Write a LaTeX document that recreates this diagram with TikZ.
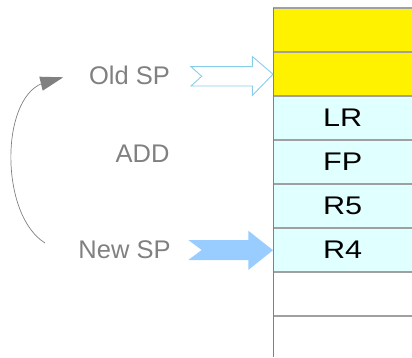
\documentclass[tikz,border=0pt]{standalone}
\usepackage{graphicx}
\usepackage{fontspec}
\setmainfont{Liberation Sans}
\definecolor{ltcyan}{HTML}{E0FFFF}
\definecolor{txtgray}{HTML}{808080}
\definecolor{outblue}{RGB}{135,206,235}
\definecolor{fillblue}{HTML}{99CCFF}
\definecolor{sepgray}{HTML}{A0A0A0}
\newcommand\stretchtxt[1]{\scalebox{1.2}[1]{#1}}
\begin{document}
\begin{tikzpicture}[x=1pt,y=-1pt,
  cell/.style={fill=#1,minimum width=139pt,minimum height=44pt,inner sep=0pt,anchor=north west,font=\fontsize{25.5}{28}\selectfont,text=black},
  lbl/.style={font=\fontsize{25.5}{30}\selectfont,text=txtgray,inner sep=0pt},
  sep/.style={draw=sepgray,line width=1.2pt},
  border/.style={draw=txtgray,line width=1pt}]
\useasboundingbox (0,0) rectangle (412,358);
% stack cells
\node[cell=yellow] (y1) at (273,8) {};
\node[cell=yellow] (y2) at (273,52) {};
\node[cell=ltcyan] (lr) at (273,96) {\stretchtxt{LR}};
\node[cell=ltcyan] (fp) at (273,140) {\stretchtxt{FP}};
\node[cell=ltcyan] (r5) at (273,184) {\stretchtxt{R5}};
\node[cell=ltcyan] (r4) at (273,228) {\stretchtxt{R4}};
\node[cell=white] (w1) at (273,272) {};
\node[cell=white] (w2) at (273,316) {};
\coordinate (bot) at (273,357);
% separators
\foreach \c in {y1,y2,lr,fp,r5,r4,w1,w2} {\draw[sep] (\c.north west) -- (\c.north east);}
\draw[border] (y1.north west) -- (bot);
% labels
\node[lbl] (old) at (129.5,75.5) {Old SP};
\node[lbl] (add) at (142.5,153.5) {ADD};
\node[lbl] (new) at (124.5,250) {New SP};
% hollow arrow to old SP
\draw[draw=outblue,line width=0.9pt,fill=white]
  (191,66.7) -- (252.3,66.7) -- (252.3,56.5) -- (y2.west) -- (252.3,95.5) -- (252.3,86) -- (191,86) -- (201.7,76.3) -- cycle;
% filled arrow to new SP
\fill[fillblue]
  (188.3,240) -- (248.3,240) -- (248.3,230.7) -- (r4.west) -- (248.3,270) -- (248.3,260) -- (188.3,260) -- (201.7,250) -- cycle;
% curved arrow
\coordinate (cs) at (45,243);
\coordinate (ce) at (63.3,77.3);
\draw[txtgray,line width=0.7pt] (cs) .. controls (0,215) and (0,100) .. (42,83.5);
\fill[txtgray] (ce) -- (39.3,76.7) -- (42.7,90.7) -- cycle;
\end{tikzpicture}
\end{document}
